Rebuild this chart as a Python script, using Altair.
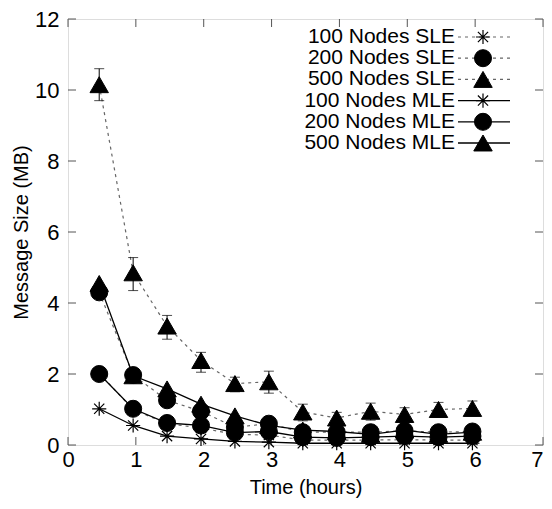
import altair as alt
import pandas as pd

# ---------------- data ----------------
time_h = [0.46, 0.96, 1.46, 1.96, 2.46, 2.96, 3.46, 3.96, 4.46, 4.96, 5.46, 5.96]

series_names = ["100 Nodes SLE", "200 Nodes SLE", "500 Nodes SLE",
                "100 Nodes MLE", "200 Nodes MLE", "500 Nodes MLE"]

sle_100 = [2.02, 1.00, 0.60, 0.48, 0.30, 0.28, 0.14, 0.14, 0.14, 0.15, 0.14, 0.14]
sle_200 = [4.30, 1.97, 1.26, 0.95, 0.50, 0.60, 0.36, 0.36, 0.36, 0.40, 0.36, 0.38]
sle_500 = [10.15, 4.85, 3.35, 2.38, 1.73, 1.78, 0.93, 0.76, 0.95, 0.86, 1.00, 1.03]
sle_500_lo = [9.70, 4.35, 2.98, 2.05, 1.50, 1.46, 0.68, 0.60, 0.70, 0.65, 0.79, 0.82]
sle_500_hi = [10.60, 5.28, 3.65, 2.61, 1.91, 2.08, 1.15, 0.92, 1.18, 1.05, 1.20, 1.24]
mle_100 = [1.02, 0.55, 0.25, 0.17, 0.10, 0.08, 0.05, 0.05, 0.05, 0.05, 0.05, 0.05]
mle_200 = [2.00, 1.02, 0.62, 0.55, 0.35, 0.38, 0.22, 0.20, 0.22, 0.25, 0.22, 0.25]
mle_500 = [4.55, 1.95, 1.58, 1.15, 0.82, 0.55, 0.42, 0.38, 0.30, 0.42, 0.30, 0.36]

series_values = [sle_100, sle_200, sle_500, mle_100, mle_200, mle_500]

x_ticks = [0, 1, 2, 3, 4, 5, 6, 7]
y_ticks = [0, 2, 4, 6, 8, 10, 12]

# ---------------- styling ----------------
FONT = "Liberation Sans"
W, H = 475, 426
STAR = "M-1,0L1,0M0,-1L0,1M-0.72,-0.72L0.72,0.72M-0.72,0.72L0.72,-0.72"
shapes = [STAR, "circle", "triangle-up", STAR, "circle", "triangle-up"]
sizes = [200, 290, 340, 200, 290, 340]
dotted = [True, True, True, False, False, False]

X = alt.X("t:Q", scale=alt.Scale(domain=[0, 7], nice=False, zero=False),
          axis=alt.Axis(values=x_ticks, title="Time (hours)", ticks=False, domain=False,
                        grid=False, labelFlush=False, labelFontSize=22, labelFont=FONT,
                        labelAlign={"condition": {"test": "datum.value >= 7", "value": "right"},
                                    "value": "center"},
                        labelColor="black", labelPadding=4, titleFont=FONT, titleFontSize=20,
                        titleFontWeight="normal", titleColor="black", titlePadding=7))
Y = alt.Y("v:Q", scale=alt.Scale(domain=[0, 12], nice=False, zero=False),
          axis=alt.Axis(values=y_ticks, title="Message Size (MB)", ticks=False, domain=False,
                        grid=False, labelFlush=False, labelFontSize=22, labelFont=FONT,
                        labelColor="black", labelPadding=9, titleFont=FONT, titleFontSize=20,
                        titleFontWeight="normal", titleColor="black", titlePadding=3))


def line_layer(df, is_dotted):
    if is_dotted:
        m = alt.Chart(df).mark_line(color="#666666", strokeWidth=1.2, strokeDash=[3, 4])
    else:
        m = alt.Chart(df).mark_line(color="black", strokeWidth=1.3)
    return m.encode(x=X, y=Y)


def point_layer(df, shape, size):
    if shape == STAR:
        m = alt.Chart(df).mark_point(shape=shape, size=size, filled=False, stroke="black",
                                     strokeWidth=1.2, opacity=1)
    else:
        m = alt.Chart(df).mark_point(shape=shape, size=size, filled=True, fill="black",
                                     stroke="black", strokeWidth=1, opacity=1)
    return m


# ---------------- main plot layers ----------------
layers = []
# inward ticks drawn as small rules from the tick arrays
xt = pd.DataFrame({"t": x_ticks})
yt = pd.DataFrame({"v": y_ticks})
tick_style = dict(color="#555555", strokeWidth=1)
layers.append(alt.Chart(xt).mark_rule(**tick_style).encode(x=X, y=alt.value(H), y2=alt.value(H - 8)))
layers.append(alt.Chart(xt).mark_rule(**tick_style).encode(x=X, y=alt.value(0), y2=alt.value(8)))
layers.append(alt.Chart(yt).mark_rule(**tick_style).encode(y=Y, x=alt.value(0), x2=alt.value(8)))
layers.append(alt.Chart(yt).mark_rule(**tick_style).encode(y=Y, x=alt.value(W), x2=alt.value(W - 8)))

for i, name in enumerate(series_names):
    df = pd.DataFrame({"t": time_h, "v": series_values[i]})
    layers.append(line_layer(df, dotted[i]))
    if name == "500 Nodes SLE":
        edf = pd.DataFrame({"t": time_h, "v": sle_500_lo, "v2": sle_500_hi})
        layers.append(alt.Chart(edf).mark_rule(color="black", strokeWidth=1).encode(
            x=X, y=Y, y2="v2:Q"))
        layers.append(alt.Chart(edf).mark_tick(color="black", thickness=1, size=10,
                                               orient="horizontal").encode(x=X, y=Y))
        layers.append(alt.Chart(edf).mark_tick(color="black", thickness=1, size=10,
                                               orient="horizontal").encode(
            x=X, y=alt.Y("v2:Q", scale=alt.Scale(domain=[0, 12], nice=False, zero=False))))
    layers.append(point_layer(df, shapes[i], sizes[i]).encode(x=X, y=Y))

main = alt.layer(*layers)

# ---------------- legend (inside top right) ----------------
YL = alt.Y("series:N", scale=alt.Scale(type="point", domain=series_names, range=[18, 124],
                                       padding=0), axis=None)
leg_layers = []
for i, name in enumerate(series_names):
    ldf = pd.DataFrame({"series": [name]})
    if dotted[i]:
        r = alt.Chart(ldf).mark_rule(color="#666666", strokeWidth=1.2, strokeDash=[3, 4])
    else:
        r = alt.Chart(ldf).mark_rule(color="black", strokeWidth=1.3)
    leg_layers.append(r.encode(y=YL, x=alt.value(390), x2=alt.value(442)))
    leg_layers.append(point_layer(ldf, shapes[i], sizes[i]).encode(y=YL, x=alt.value(415)))
    leg_layers.append(alt.Chart(ldf).mark_text(align="right", baseline="middle", font=FONT,
                                               fontSize=21, color="black").encode(
        y=YL, x=alt.value(387), text="series:N"))

legend = alt.layer(*leg_layers)

chart = alt.layer(main, legend).resolve_scale(y="independent").properties(
    width=W, height=H,
    autosize=alt.AutoSizeParams(type="none"),
    padding={"left": 60, "top": 11, "right": 1, "bottom": 55},
).configure_view(stroke="#222222", strokeWidth=1.5).configure(background="white")

chart.save("out.html", embed_options={"renderer": "svg", "actions": False})
